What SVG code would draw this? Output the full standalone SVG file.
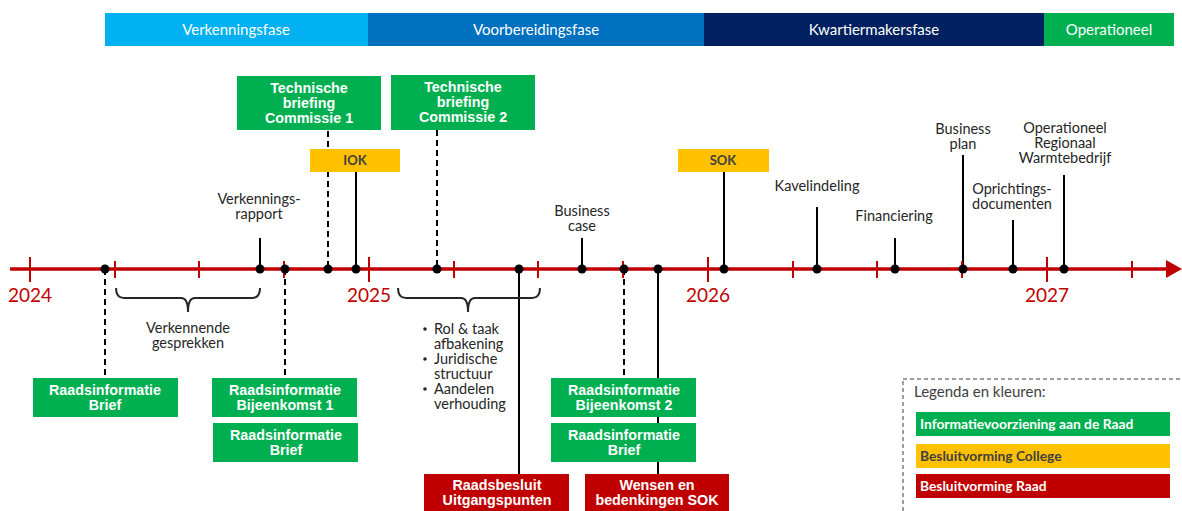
<svg xmlns="http://www.w3.org/2000/svg" width="1182" height="511" viewBox="0 0 1182 511">
<defs>
<style>
.ph{font-family:Lato,"Open Sans",sans-serif;font-size:15px;fill:#fff;text-anchor:middle}
.bx{font-family:"Liberation Sans",Arial,sans-serif;font-size:14.3px;font-weight:bold;fill:#fff;text-anchor:middle}
.cb{font-family:Lato,"Open Sans",sans-serif;font-size:13px;font-weight:bold;fill:#404040;text-anchor:middle}
.lb{font-family:Lato,"Open Sans",sans-serif;font-size:14.5px;fill:#262626;text-anchor:middle}
.bl{font-family:Lato,"Open Sans",sans-serif;font-size:14.5px;fill:#262626}
.yr{font-family:Lato,"Open Sans",sans-serif;font-size:19px;fill:#C00000;text-anchor:middle}
.lg{font-family:Lato,"Open Sans",sans-serif;font-size:13.8px;font-weight:bold;fill:#fff}
.g{fill:#00B050}.y{fill:#FFC000}.r{fill:#C00000}
.s{stroke:#000;stroke-width:2;fill:none}
.d{stroke:#000;stroke-width:2;fill:none;stroke-dasharray:6 4}
.tk{stroke:#C00000;stroke-width:2}
.dot{fill:#000}
</style>
</defs>

<g id="phases">
<rect x="105" y="13" width="263" height="33" fill="#00B0F0"/>
<text class="ph" x="236" y="35">Verkenningsfase</text>
<rect x="368" y="13" width="336" height="33" fill="#0070C0"/>
<text class="ph" x="536" y="35">Voorbereidingsfase</text>
<rect x="704" y="13" width="340" height="33" fill="#002060"/>
<text class="ph" x="874" y="35">Kwartiermakersfase</text>
<rect x="1044" y="13" width="130" height="33" fill="#00B050"/>
<text class="ph" x="1109" y="35">Operationeel</text>
</g>

<g id="connectors">
<line class="s" x1="260" y1="238" x2="260" y2="269"/>
<line class="d" x1="105" y1="269" x2="105" y2="378"/>
<line class="d" x1="285" y1="269" x2="285" y2="378"/>
<line class="d" x1="328" y1="131" x2="328" y2="269"/>
<line class="s" x1="356" y1="172" x2="356" y2="269"/>
<line class="d" x1="437" y1="130" x2="437" y2="269"/>
<line class="s" x1="519" y1="269" x2="519" y2="474"/>
<line class="s" x1="582" y1="238" x2="582" y2="269"/>
<line class="d" x1="624" y1="269" x2="624" y2="378"/>
<line class="s" x1="658" y1="269" x2="658" y2="474"/>
<line class="s" x1="724" y1="172" x2="724" y2="269"/>
<line class="s" x1="817" y1="207" x2="817" y2="269"/>
<line class="s" x1="895" y1="238" x2="895" y2="269"/>
<line class="s" x1="963" y1="155" x2="963" y2="269"/>
<line class="s" x1="1013" y1="220" x2="1013" y2="269"/>
<line class="s" x1="1064" y1="175" x2="1064" y2="269"/>
</g>

<g id="timeline">
<line x1="10" y1="269" x2="1168" y2="269" stroke="#C00000" stroke-width="3.5"/>
<polygon points="1166,260 1182,269 1166,278" fill="#C00000"/>
<g class="tk">
<line x1="30" y1="257" x2="30" y2="282"/>
<line x1="369" y1="257" x2="369" y2="282"/>
<line x1="708" y1="257" x2="708" y2="282"/>
<line x1="1047" y1="257" x2="1047" y2="282"/>
<line x1="115" y1="261" x2="115" y2="278"/>
<line x1="199" y1="261" x2="199" y2="278"/>
<line x1="284" y1="261" x2="284" y2="278"/>
<line x1="454" y1="261" x2="454" y2="278"/>
<line x1="538" y1="261" x2="538" y2="278"/>
<line x1="623" y1="261" x2="623" y2="278"/>
<line x1="793" y1="261" x2="793" y2="278"/>
<line x1="877" y1="261" x2="877" y2="278"/>
<line x1="962" y1="261" x2="962" y2="278"/>
<line x1="1132" y1="261" x2="1132" y2="278"/>
</g>
<text class="yr" x="30" y="302">2024</text>
<text class="yr" x="369" y="302">2025</text>
<text class="yr" x="708" y="302">2026</text>
<text class="yr" x="1047" y="302">2027</text>
<g class="dot">
<circle cx="105" cy="269" r="4.5"/><circle cx="260" cy="269" r="4.5"/><circle cx="285" cy="269" r="4.5"/>
<circle cx="328" cy="269" r="4.5"/><circle cx="356" cy="269" r="4.5"/><circle cx="437" cy="269" r="4.5"/>
<circle cx="519" cy="269" r="4.5"/><circle cx="582" cy="269" r="4.5"/><circle cx="624" cy="269" r="4.5"/>
<circle cx="658" cy="269" r="4.5"/><circle cx="724" cy="269" r="4.5"/><circle cx="817" cy="269" r="4.5"/>
<circle cx="895" cy="269" r="4.5"/><circle cx="963" cy="269" r="4.5"/><circle cx="1013" cy="269" r="4.5"/>
<circle cx="1064" cy="269" r="4.5"/>
</g>
</g>

<g id="braces" fill="none" stroke="#262626" stroke-width="2">
<path d="M116,288 Q116,298 124,298 L181,298 Q188,298 188,312 Q188,298 195,298 L252,298 Q260,298 260,288"/>
<path d="M398,288 Q398,298 406,298 L461,298 Q468,298 468,312 Q468,298 475,298 L532,298 Q540,298 540,288"/>
</g>

<g id="labels">
<text class="lb" x="259" y="204">Verkennings-</text>
<text class="lb" x="259" y="219">rapport</text>
<text class="lb" x="188" y="333">Verkennende</text>
<text class="lb" x="188" y="348">gesprekken</text>
<text class="lb" x="582" y="216">Business</text>
<text class="lb" x="582" y="231">case</text>
<text class="lb" x="817" y="191">Kavelindeling</text>
<text class="lb" x="894" y="221">Financiering</text>
<text class="lb" x="963" y="134">Business</text>
<text class="lb" x="963" y="149">plan</text>
<text class="lb" x="1012" y="194">Oprichtings-</text>
<text class="lb" x="1012" y="209">documenten</text>
<text class="lb" x="1065" y="133">Operationeel</text>
<text class="lb" x="1065" y="148">Regionaal</text>
<text class="lb" x="1065" y="163">Warmtebedrijf</text>
</g>

<g id="bullets">
<circle cx="425" cy="329" r="1.8" fill="#262626"/>
<text class="bl" x="434" y="334">Rol &amp; taak</text>
<text class="bl" x="434" y="349">afbakening</text>
<circle cx="425" cy="359" r="1.8" fill="#262626"/>
<text class="bl" x="434" y="364">Juridische</text>
<text class="bl" x="434" y="379">structuur</text>
<circle cx="425" cy="389" r="1.8" fill="#262626"/>
<text class="bl" x="434" y="394">Aandelen</text>
<text class="bl" x="434" y="409">verhouding</text>
</g>

<g id="tb1"><rect class="g" x="237" y="76" width="144" height="54"/>
<text class="bx" x="309" y="93">Technische</text><text class="bx" x="309" y="108">briefing</text><text class="bx" x="309" y="123">Commissie 1</text></g>
<g id="tb2"><rect class="g" x="391" y="75" width="144" height="55"/>
<text class="bx" x="463" y="92">Technische</text><text class="bx" x="463" y="107">briefing</text><text class="bx" x="463" y="122">Commissie 2</text></g>
<g id="iok"><rect class="y" x="310" y="149" width="90" height="23"/><text class="cb" x="355" y="165">IOK</text></g>
<g id="sok"><rect class="y" x="678" y="149" width="91" height="23"/><text class="cb" x="723" y="165">SOK</text></g>

<g id="rib1"><rect class="g" x="33" y="378" width="145" height="39"/>
<text class="bx" x="105" y="395">Raadsinformatie</text><text class="bx" x="105" y="410">Brief</text></g>
<g id="rib-bk1"><rect class="g" x="212" y="378" width="145" height="39"/>
<text class="bx" x="285" y="395">Raadsinformatie</text><text class="bx" x="285" y="410">Bijeenkomst 1</text></g>
<g id="rib2"><rect class="g" x="213" y="423" width="145" height="39"/>
<text class="bx" x="286" y="440">Raadsinformatie</text><text class="bx" x="286" y="455">Brief</text></g>
<g id="rib-bk2"><rect class="g" x="551" y="378" width="145" height="39"/>
<text class="bx" x="624" y="395">Raadsinformatie</text><text class="bx" x="624" y="410">Bijeenkomst 2</text></g>
<g id="rib3"><rect class="g" x="551" y="423" width="145" height="39"/>
<text class="bx" x="624" y="440">Raadsinformatie</text><text class="bx" x="624" y="455">Brief</text></g>
<g id="raadsbesluit"><rect class="r" x="424" y="474" width="145" height="40"/>
<text class="bx" x="497" y="490">Raadsbesluit</text><text class="bx" x="497" y="505">Uitgangspunten</text></g>
<g id="wensen"><rect class="r" x="585" y="474" width="144" height="40"/>
<text class="bx" x="657" y="490">Wensen en</text><text class="bx" x="657" y="505">bedenkingen SOK</text></g>

<g id="legend">
<rect x="903" y="379" width="290" height="140" fill="none" stroke="#7F7F7F" stroke-width="1.5" stroke-dasharray="4 3"/>
<text x="914" y="397" font-family="Lato,'Open Sans',sans-serif" font-size="15" fill="#404040">Legenda en kleuren:</text>
<rect class="g" x="916" y="412" width="254" height="24"/>
<text class="lg" x="920" y="429">Informatievoorziening aan de Raad</text>
<rect class="y" x="916" y="444" width="254" height="24"/>
<text class="lg" x="920" y="461" style="fill:#404040">Besluitvorming College</text>
<rect class="r" x="916" y="474" width="254" height="24"/>
<text class="lg" x="920" y="491">Besluitvorming Raad</text>
</g>
</svg>
